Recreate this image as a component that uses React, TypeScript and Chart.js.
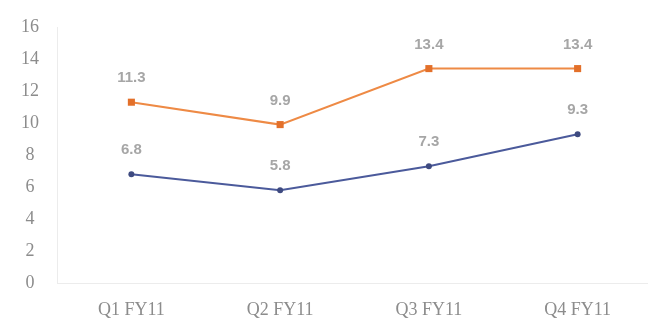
import React, { useEffect, useRef } from "react";
import { Chart, registerables } from "chart.js";

Chart.register(...registerables);

const categories = ["Q1 FY11", "Q2 FY11", "Q3 FY11", "Q4 FY11"];
const orangeValues = [11.3, 9.9, 13.4, 13.4];
const blueValues = [6.8, 5.8, 7.3, 9.3];
const yTicks = [0, 2, 4, 6, 8, 10, 12, 14, 16];

const valueLabels = {
  id: "valueLabels",
  afterDatasetsDraw(chart: any) {
    const ctx = chart.ctx;
    ctx.save();
    ctx.font = "bold 15px 'Liberation Sans', sans-serif";
    ctx.fillStyle = "#a6a6a6";
    ctx.textAlign = "center";
    ctx.textBaseline = "middle";
    chart.data.datasets.forEach((ds: any, i: number) => {
      const meta = chart.getDatasetMeta(i);
      meta.data.forEach((pt: any, j: number) => {
        ctx.fillText(String(ds.data[j]), pt.x, pt.y - 24);
      });
    });
    ctx.restore();
  },
};

export default function App() {
  const ref = useRef<HTMLCanvasElement | null>(null);
  useEffect(() => {
    if (!ref.current) return;
    const chart = new Chart(ref.current, {
      type: "line",
      data: {
        labels: categories,
        datasets: [
          {
            label: "Orange",
            data: orangeValues,
            borderColor: "#EE8A45",
            backgroundColor: "#E3702A",
            borderWidth: 2,
            pointStyle: "rect",
            pointRadius: 5,
            pointBorderWidth: 0,
            tension: 0,
          },
          {
            label: "Blue",
            data: blueValues,
            borderColor: "#4B5A9B",
            backgroundColor: "#3E4A80",
            borderWidth: 2,
            pointStyle: "circle",
            pointRadius: 3,
            pointBorderWidth: 0,
            tension: 0,
          },
        ],
      },
      options: {
        animation: false,
        responsive: false,
        maintainAspectRatio: false,
        layout: { padding: { top: 27, bottom: 17, left: 0, right: 0 } },
        plugins: {
          legend: { display: false },
          tooltip: { enabled: false },
        },
        scales: {
          x: {
            offset: true,
            afterFit: (scale: any) => {
              scale.height = 36;
            },
            grid: { display: false },
            border: { display: true, color: "#ececec" },
            ticks: {
              color: "#8c8c8c",
              padding: 8,
              maxRotation: 0,
              font: { family: "'Liberation Serif', serif", size: 18 },
            },
          },
          y: {
            min: 0,
            max: 16,
            afterFit: (scale: any) => {
              scale.width = 57;
            },
            afterBuildTicks: (scale: any) => {
              scale.ticks = yTicks.map((v) => ({ value: v }));
            },
            grid: { display: false },
            border: { display: true, color: "#ececec" },
            ticks: {
              color: "#8c8c8c",
              padding: 10,
              crossAlign: "center",
              font: { family: "'Liberation Serif', serif", size: 18 },
            },
          },
        },
      },
      plugins: [valueLabels],
    });
    return () => chart.destroy();
  }, []);
  return (
    <div
      style={{
        position: "absolute",
        left: 0,
        top: 0,
        width: 648,
        height: 336,
        overflow: "hidden",
        background: "#fff",
      }}
    >
      <canvas ref={ref} width={657} height={336} style={{ display: "block" }} />
    </div>
  );
}
